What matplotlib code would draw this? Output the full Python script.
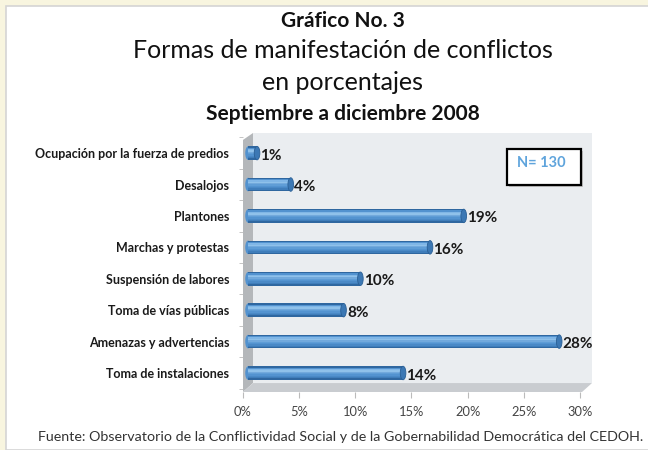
import matplotlib
matplotlib.use("Agg")
import matplotlib.pyplot as plt
import numpy as np
from matplotlib.patches import Rectangle, Ellipse, Polygon

plt.rcParams['font.family'] = ['Lato', 'DejaVu Sans']

categories = ["Toma de instalaciones", "Amenazas y advertencias", "Toma de vías públicas",
              "Suspensión de labores", "Marchas y protestas", "Plantones", "Desalojos",
              "Ocupación por la fuerza de predios"]
values = [13.8, 27.7, 8.5, 10.0, 16.2, 19.2, 3.8, 0.8]
labels = ["14%", "28%", "8%", "10%", "16%", "19%", "4%", "1%"]
xticks = [0, 5, 10, 15, 20, 25, 30]

fig = plt.figure(figsize=(6.48, 4.5), dpi=100, facecolor="#f8f5df")
# white card
fig.patches.append(Rectangle((6 / 648, 0), 1, 1 - 6 / 450, transform=fig.transFigure,
                             facecolor="white", edgecolor="#d4d4d4", lw=1.2, zorder=-10))

ax = fig.add_axes([243 / 648, 1 - 392 / 450, 349 / 648, 259 / 450])
ax.set_xlim(0, 31.07)
ax.set_ylim(-0.605, 7.64)
ax.set_facecolor("none")
for s in ax.spines.values():
    s.set_visible(False)

# 3D-ish walls
x0, x1 = ax.get_xlim()
y0, y1 = ax.get_ylim()
dx, dy = 0.89, 0.285
ax.add_patch(Rectangle((dx, y0 + dy), x1 - dx, y1 - y0 - dy, facecolor="#eaedf0", edgecolor="none", zorder=0))
ax.add_patch(Polygon([(0, y0), (0, y1 - 0.22), (dx, y1), (dx, y0 + dy)], closed=True,
                     facecolor="#b4b7ba", edgecolor="none", zorder=0))
ax.add_patch(Polygon([(0, y0), (dx, y0 + dy), (x1, y0 + dy), (x1 - dx, y0)], closed=True,
                     facecolor="#c9ccd0", edgecolor="none", zorder=0))

# bars with a vertical gradient
bar_h = 0.43
left = 0.45
pos = np.arange(len(categories))
grad = ["#2f67a0", "#5292cf", "#80b6e6", "#8fc1ea", "#72a9dc", "#5f9dd6",
        "#5393d0", "#4a89c6", "#3f7dba", "#2f67a0"]
n = len(grad)
for k, c in enumerate(grad):
    yoff = bar_h / 2 - (k + 0.5) * bar_h / n
    ax.barh(pos + yoff, values, height=bar_h / n + 0.005, left=left, color=c, edgecolor="none", zorder=2)
for p, v, lab in zip(pos, values, labels):
    ax.add_patch(Ellipse((left + v, p), 0.5, bar_h, facecolor="#3c78b4", edgecolor="#2a5f95", lw=0.6, zorder=3))
    ax.add_patch(Ellipse((left, p), 0.5, bar_h, facecolor="#5292cf", edgecolor="none", zorder=1.9))
    ax.text(left + v + 0.3, p - 0.08, lab, fontsize=11, fontweight="bold", color="#1a1a1a",
            va="center", ha="left", zorder=4)

ax.set_yticks(pos)
ax.set_yticklabels(categories, fontsize=9, fontweight="bold", color="#1a1a1a")
ax.set_yticks(np.arange(-0.5, len(categories), 1), minor=True)
ax.tick_params(axis="y", which="major", length=0, pad=10)
ax.tick_params(axis="y", which="minor", length=3, color="#bbbbbb")
ax.set_xticks(xticks)
ax.set_xticklabels([f"{t}%" for t in xticks], fontsize=9.3, color="#444444")
ax.tick_params(axis="x", length=4, color="#bbbbbb", pad=6)

# N box with shadow
ax.add_patch(Rectangle((0.762, 0.792), 0.212, 0.139, transform=ax.transAxes, facecolor="#c4c4c4",
                       edgecolor="none", zorder=5))
ax.add_patch(Rectangle((0.756, 0.799), 0.212, 0.139, transform=ax.transAxes, facecolor="white",
                       edgecolor="black", lw=1.6, zorder=6))
ax.text(0.785, 0.885, "N= 130", transform=ax.transAxes, fontsize=10.5, fontweight="bold",
        color="#5fa4dc", ha="left", va="center", zorder=7)

fig.text(0.529, 1 - 21 / 450, "Gráfico No. 3", ha="center", va="center", fontsize=15, fontweight="bold", color="#111111")
fig.text(0.529, 1 - 51 / 450, "Formas de manifestación de conflictos", ha="center", va="center", fontsize=18,
         color="#111111")
fig.text(0.529, 1 - 83 / 450, "en porcentajes", ha="center", va="center", fontsize=18, color="#111111")
fig.text(0.529, 1 - 114 / 450, "Septiembre a diciembre 2008", ha="center", va="center", fontsize=15, fontweight="bold", color="#111111")
fig.text(38 / 648, 1 - 437 / 450, "Fuente: Observatorio de la Conflictividad Social y de la Gobernabilidad Democrática del CEDOH.",
         ha="left", va="center", fontsize=10.25, color="#333333")

fig.savefig("out.png", dpi=100, facecolor=fig.get_facecolor())
